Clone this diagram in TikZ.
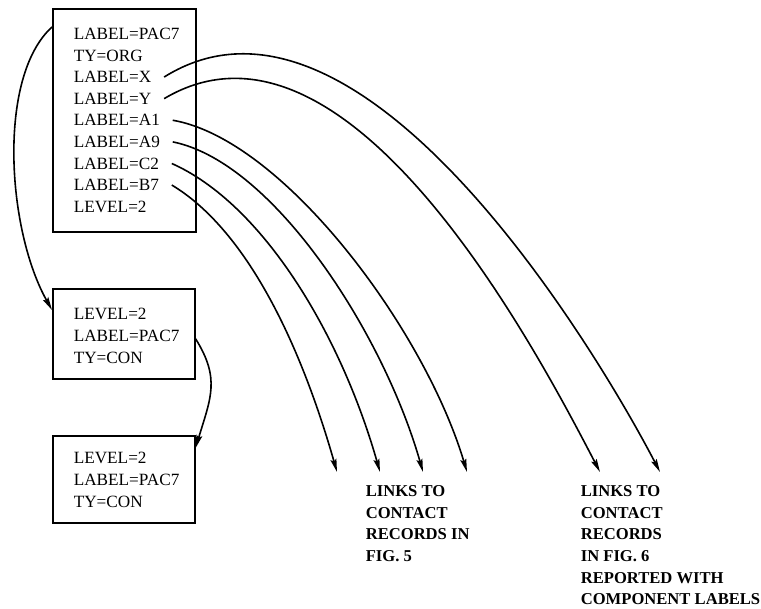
\documentclass[tikz,border=0pt]{standalone}
\usepackage{fontspec}
\setmainfont{Liberation Serif}
\usetikzlibrary{arrows.meta}

\begin{document}
\begin{tikzpicture}
  [x=1pt,y=-1pt,line width=1.6pt,
   every node/.style={inner sep=0pt},
   record/.style={draw,rectangle,anchor=north west},
   field/.style={anchor=base west,font=\fontsize{17.2}{21.6}\selectfont},
   note/.style={anchor=north west,align=left,font=\fontsize{16.6}{21.6}\selectfont\bfseries},
   link/.style={-{Stealth[length=13pt,width=6pt,inset=2pt]}}]
  \useasboundingbox (0,0) rectangle (761,609);

  % records
  \node[record,minimum width=143pt,minimum height=223pt] (orgrec) at (52,8) {};
  \node[record,minimum width=142pt,minimum height=90pt] (conrec) at (52,288) {};
  \node[record,minimum width=142pt,minimum height=87pt] (conrecb) at (52,435) {};

  \foreach \name/\txt [count=\i] in {fpac/LABEL=PAC7,fty/TY=ORG,fx/LABEL=X,fy/LABEL=Y,
      fa1/LABEL=A1,fa9/LABEL=A9,fc2/LABEL=C2,fb7/LABEL=B7,flev/LEVEL=2}
    \node[field] (\name) at (73,{17.9+21.6*\i}) {\txt};

  \node[field] (lev1) at (73,319.5) {LEVEL=2};
  \node[field] (lab1) at (73,341.5) {LABEL=PAC7};
  \node[field] (ty1)  at (73,363.5) {TY=CON};
  \node[field] (lev2) at (73,463.5) {LEVEL=2};
  \node[field] (lab2) at (73,485.5) {LABEL=PAC7};
  \node[field] (ty2)  at (73,507.5) {TY=CON};

  % chain of records
  \draw[link] ([yshift=-19pt]orgrec.north west) .. controls +(-55,50) and +(-45,-80) .. ([yshift=-22pt]conrec.north west);
  \draw[link] ([yshift=-5pt]conrec.east) .. controls +(25,40) and +(15,-50) .. ([yshift=-13pt]conrecb.north east);

  % links out
  \node[note] (fig5) at (365,485) {LINKS TO\\CONTACT\\RECORDS IN\\FIG. 5};
  \node[note] (fig6) at (580,485) {LINKS TO\\CONTACT\\RECORDS\\IN FIG. 6\\REPORTED WITH\\COMPONENT LABELS};

  \coordinate (to5a) at (337,472);
  \coordinate (to5b) at (380,472);
  \coordinate (to5c) at (423,472);
  \coordinate (to5d) at (467,472);
  \coordinate (to6a) at (600,472);
  \coordinate (to6b) at (660,472);

  \foreach \src/\dst/\cs/\ce in {fx/to6b/{195,-122}/{-65,-125},fy/to6a/{185,-110}/{-60,-115},
      fa1/to5d/{110,19}/{-43,-144},fa9/to5c/{100,20}/{-40,-140},
      fc2/to5b/{90,40}/{-40,-140},fb7/to5a/{70,42}/{-40,-140}}
    \draw[link] ([xshift=12pt]\src.east) .. controls +(\cs) and +(\ce) .. (\dst);
\end{tikzpicture}
\end{document}
